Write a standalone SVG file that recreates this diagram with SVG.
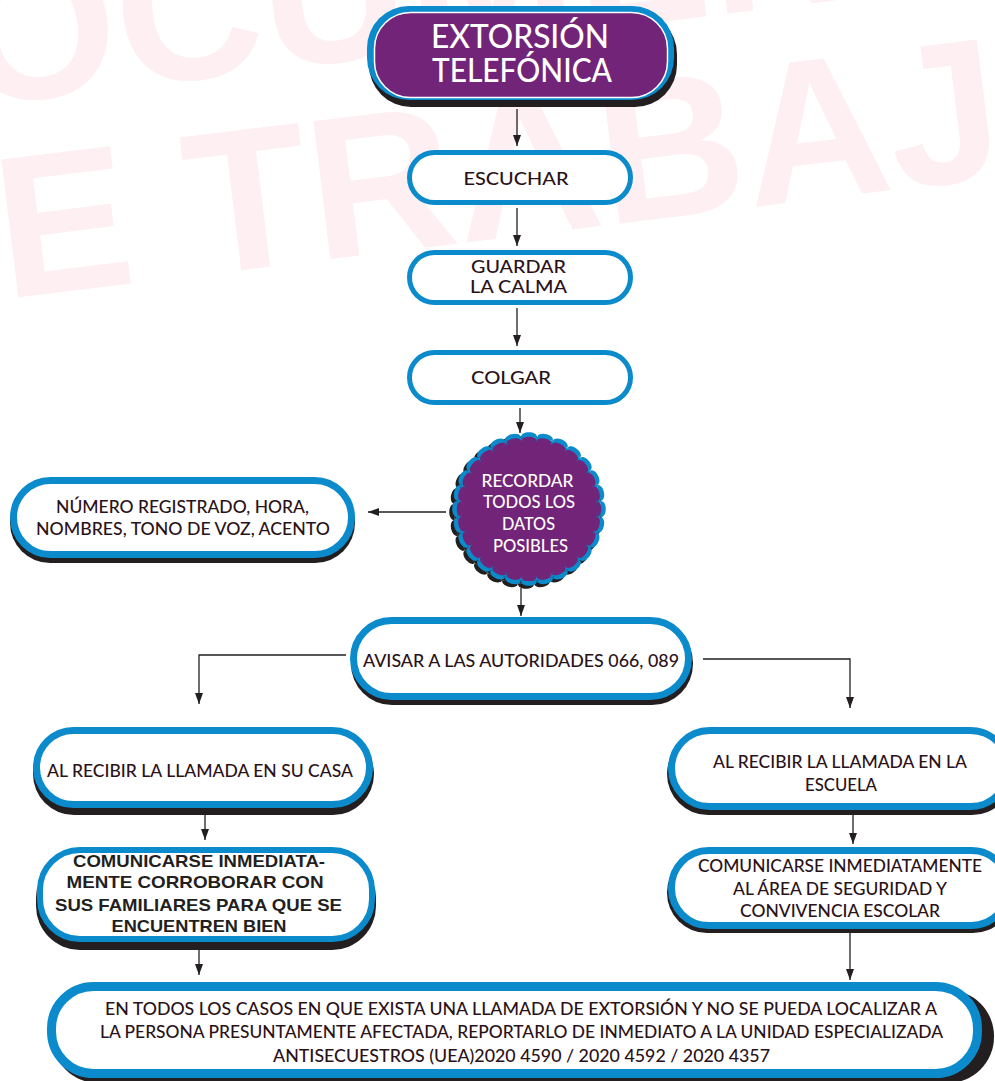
<svg xmlns="http://www.w3.org/2000/svg" xmlns:xlink="http://www.w3.org/1999/xlink" width="995" height="1081" viewBox="0 0 995 1081">
<style>
.wm{font-family:"Liberation Sans",Arial,sans-serif;font-weight:700;font-size:202px;fill:#fdeff2}
.box{fill:#fff;stroke:#0b8bcc}
.sh{fill:#231f20}
.t{font-family:Lato,"Open Sans",sans-serif;font-weight:500;fill:#2b1219;text-anchor:middle}
.tb{font-family:"Liberation Sans",Arial,sans-serif;font-weight:700;fill:#231f20;text-anchor:middle;font-size:17px}
.w{fill:#fff}
.c{stroke:#231f20;stroke-width:1.3;fill:none;marker-end:url(#ah)}
</style>
<defs>
<marker id="ah" markerUnits="userSpaceOnUse" markerWidth="12" markerHeight="9" refX="11" refY="4" orient="auto"><path d="M0,0 L11,4 L0,8 Z" fill="#231f20"/></marker>
<path id="bO" d="M-8.06,-71.55 C-8.6,-78.5 8.6,-78.5 8.06,-71.55 Z"/>
<path id="bI" d="M-7.61,-67.57 C-8.1,-73.8 8.1,-73.8 7.61,-67.57 Z"/>
<g id="burstO">
<circle r="72"/>
<use href="#bO"/><use href="#bO" transform="rotate(12.857)"/><use href="#bO" transform="rotate(25.714)"/><use href="#bO" transform="rotate(38.571)"/><use href="#bO" transform="rotate(51.429)"/><use href="#bO" transform="rotate(64.286)"/><use href="#bO" transform="rotate(77.143)"/><use href="#bO" transform="rotate(90)"/><use href="#bO" transform="rotate(102.857)"/><use href="#bO" transform="rotate(115.714)"/><use href="#bO" transform="rotate(128.571)"/><use href="#bO" transform="rotate(141.429)"/><use href="#bO" transform="rotate(154.286)"/><use href="#bO" transform="rotate(167.143)"/><use href="#bO" transform="rotate(180)"/><use href="#bO" transform="rotate(192.857)"/><use href="#bO" transform="rotate(205.714)"/><use href="#bO" transform="rotate(218.571)"/><use href="#bO" transform="rotate(231.429)"/><use href="#bO" transform="rotate(244.286)"/><use href="#bO" transform="rotate(257.143)"/><use href="#bO" transform="rotate(270)"/><use href="#bO" transform="rotate(282.857)"/><use href="#bO" transform="rotate(295.714)"/><use href="#bO" transform="rotate(308.571)"/><use href="#bO" transform="rotate(321.429)"/><use href="#bO" transform="rotate(334.286)"/><use href="#bO" transform="rotate(347.143)"/>
</g>
<g id="burstI">
<circle r="68"/>
<use href="#bI"/><use href="#bI" transform="rotate(12.857)"/><use href="#bI" transform="rotate(25.714)"/><use href="#bI" transform="rotate(38.571)"/><use href="#bI" transform="rotate(51.429)"/><use href="#bI" transform="rotate(64.286)"/><use href="#bI" transform="rotate(77.143)"/><use href="#bI" transform="rotate(90)"/><use href="#bI" transform="rotate(102.857)"/><use href="#bI" transform="rotate(115.714)"/><use href="#bI" transform="rotate(128.571)"/><use href="#bI" transform="rotate(141.429)"/><use href="#bI" transform="rotate(154.286)"/><use href="#bI" transform="rotate(167.143)"/><use href="#bI" transform="rotate(180)"/><use href="#bI" transform="rotate(192.857)"/><use href="#bI" transform="rotate(205.714)"/><use href="#bI" transform="rotate(218.571)"/><use href="#bI" transform="rotate(231.429)"/><use href="#bI" transform="rotate(244.286)"/><use href="#bI" transform="rotate(257.143)"/><use href="#bI" transform="rotate(270)"/><use href="#bI" transform="rotate(282.857)"/><use href="#bI" transform="rotate(295.714)"/><use href="#bI" transform="rotate(308.571)"/><use href="#bI" transform="rotate(321.429)"/><use href="#bI" transform="rotate(334.286)"/><use href="#bI" transform="rotate(347.143)"/>
</g>
</defs>
<rect width="995" height="1081" fill="#fff"/>
<g id="watermark">
<text class="wm" x="-32" y="107" transform="rotate(-7 -32 107)">OCUMENT</text>
<text class="wm" x="5" y="299" transform="rotate(-7 5 299)">E TRABAJ</text>
</g>
<g id="connectors">
<path class="c" d="M517,109 V146"/>
<path class="c" d="M517,208 V246"/>
<path class="c" d="M517,308 V346"/>
<path class="c" d="M520,408 V433"/>
<path class="c" d="M446,512 H368"/>
<path class="c" d="M521,588 V616"/>
<path class="c" d="M346,655 H199 V704"/>
<path class="c" d="M703,659 H850 V708"/>
<path class="c" d="M205,812 V840"/>
<path class="c" d="M853,812 V844"/>
<path class="c" d="M199,944 V975"/>
<path class="c" d="M850,932 V980"/>
</g>
<g id="n-title">
<rect class="sh" x="369" y="12" width="308" height="95" rx="42"/>
<rect x="367" y="6" width="307" height="94" rx="42" fill="#0b8bcc"/>
<rect x="374.5" y="12.5" width="293" height="85" rx="36" fill="#722479" stroke="#fff" stroke-width="1.5"/>
<text class="t w" font-size="32" x="520" y="48" textLength="178" lengthAdjust="spacingAndGlyphs">EXTORSIÓN</text>
<text class="t w" font-size="32" x="522" y="82" textLength="180" lengthAdjust="spacingAndGlyphs">TELEFÓNICA</text>
</g>
<g id="n-escuchar">
<rect class="box" stroke-width="5" x="409.5" y="152.5" width="221" height="50" rx="25"/>
<text class="t" font-size="18" x="516" y="185" textLength="105" lengthAdjust="spacingAndGlyphs">ESCUCHAR</text>
</g>
<g id="n-guardar">
<rect class="box" stroke-width="5" x="409.5" y="252.5" width="221" height="50" rx="25"/>
<text class="t" font-size="18" x="518.5" y="273" textLength="95" lengthAdjust="spacingAndGlyphs">GUARDAR</text>
<text class="t" font-size="18" x="518.5" y="293" textLength="97" lengthAdjust="spacingAndGlyphs">LA CALMA</text>
</g>
<g id="n-colgar">
<rect class="box" stroke-width="5" x="409.5" y="352.5" width="221" height="50" rx="25"/>
<text class="t" font-size="18" x="511" y="384" textLength="80" lengthAdjust="spacingAndGlyphs">COLGAR</text>
</g>
<g id="n-recordar">
<use href="#burstO" fill="#231f20" transform="translate(526 512)"/>
<use href="#burstO" fill="#0b8bcc" transform="translate(529 509)"/>
<use href="#burstI" fill="#722479" transform="translate(529 509)"/>
<text class="t w" font-size="16.5" x="527.5" y="487" textLength="92" lengthAdjust="spacingAndGlyphs">RECORDAR</text>
<text class="t w" font-size="16.5" x="529" y="508" textLength="92" lengthAdjust="spacingAndGlyphs">TODOS LOS</text>
<text class="t w" font-size="16.5" x="528.5" y="530" textLength="53" lengthAdjust="spacingAndGlyphs">DATOS</text>
<text class="t w" font-size="16.5" x="530.5" y="552" textLength="75" lengthAdjust="spacingAndGlyphs">POSIBLES</text>
</g>
<g id="n-datos">
<rect class="sh" x="10" y="482" width="345" height="81" rx="40"/>
<rect class="box" stroke-width="7" x="13.5" y="480.5" width="338" height="74" rx="37"/>
<text class="t" font-size="17" x="182.5" y="513" textLength="253" lengthAdjust="spacingAndGlyphs">NÚMERO REGISTRADO, HORA,</text>
<text class="t" font-size="17" x="183" y="535" textLength="294" lengthAdjust="spacingAndGlyphs">NOMBRES, TONO DE VOZ, ACENTO</text>
</g>
<g id="n-avisar">
<rect class="sh" x="351" y="622" width="342" height="83" rx="41"/>
<rect class="box" stroke-width="7" x="353.5" y="620.5" width="335" height="76" rx="38"/>
<text class="t" font-size="17" x="521" y="667" textLength="316" lengthAdjust="spacingAndGlyphs">AVISAR A LAS AUTORIDADES 066, 089</text>
</g>
<g id="n-casa">
<rect class="sh" x="33" y="733" width="341" height="82" rx="41"/>
<rect class="box" stroke-width="7" x="36.5" y="730.5" width="333" height="74" rx="37"/>
<text class="t" font-size="17" x="200" y="777" textLength="306" lengthAdjust="spacingAndGlyphs">AL RECIBIR LA LLAMADA EN SU CASA</text>
</g>
<g id="n-com-casa">
<rect class="sh" x="36" y="854" width="340" height="96" rx="44"/>
<rect class="box" stroke-width="6" x="40" y="850" width="332" height="89" rx="40"/>
<text class="tb" x="199" y="867" textLength="252" lengthAdjust="spacingAndGlyphs">COMUNICARSE INMEDIATA-</text>
<text class="tb" x="195" y="888" textLength="257" lengthAdjust="spacingAndGlyphs">MENTE CORROBORAR CON</text>
<text class="tb" x="198.5" y="911" textLength="287" lengthAdjust="spacingAndGlyphs">SUS FAMILIARES PARA QUE SE</text>
<text class="tb" x="199" y="932" textLength="175" lengthAdjust="spacingAndGlyphs">ENCUENTREN BIEN</text>
</g>
<g id="n-escuela">
<rect class="sh" x="667" y="733" width="346" height="82" rx="41"/>
<rect class="box" stroke-width="7" x="671.5" y="730.5" width="337" height="76" rx="38"/>
<text class="t" font-size="17" x="840" y="768" textLength="254" lengthAdjust="spacingAndGlyphs">AL RECIBIR LA LLAMADA EN LA</text>
<text class="t" font-size="17" x="841" y="791" textLength="72" lengthAdjust="spacingAndGlyphs">ESCUELA</text>
</g>
<g id="n-com-escuela">
<rect class="sh" x="667" y="852" width="346" height="81" rx="40"/>
<rect class="box" stroke-width="7" x="671.5" y="850.5" width="337" height="75" rx="37"/>
<text class="t" font-size="17" x="840" y="872" textLength="284" lengthAdjust="spacingAndGlyphs">COMUNICARSE INMEDIATAMENTE</text>
<text class="t" font-size="17" x="840" y="895" textLength="214" lengthAdjust="spacingAndGlyphs">AL ÁREA DE SEGURIDAD Y</text>
<text class="t" font-size="17" x="840" y="917" textLength="200" lengthAdjust="spacingAndGlyphs">CONVIVENCIA ESCOLAR</text>
</g>
<g id="n-todos">
<rect class="sh" x="52" y="990" width="942" height="93" rx="46"/>
<rect class="box" stroke-width="9" x="51.5" y="986.5" width="926" height="87" rx="42"/>
<text class="t" font-size="17.5" x="521" y="1015" textLength="832" lengthAdjust="spacingAndGlyphs">EN TODOS LOS CASOS EN QUE EXISTA UNA LLAMADA DE EXTORSIÓN Y NO SE PUEDA LOCALIZAR A</text>
<text class="t" font-size="17.5" x="521.5" y="1038" textLength="843" lengthAdjust="spacingAndGlyphs">LA PERSONA PRESUNTAMENTE AFECTADA, REPORTARLO DE INMEDIATO A LA UNIDAD ESPECIALIZADA</text>
<text class="t" font-size="17.5" x="521.5" y="1062" textLength="497" lengthAdjust="spacingAndGlyphs">ANTISECUESTROS (UEA)2020 4590 / 2020 4592 / 2020 4357</text>
</g>
</svg>
